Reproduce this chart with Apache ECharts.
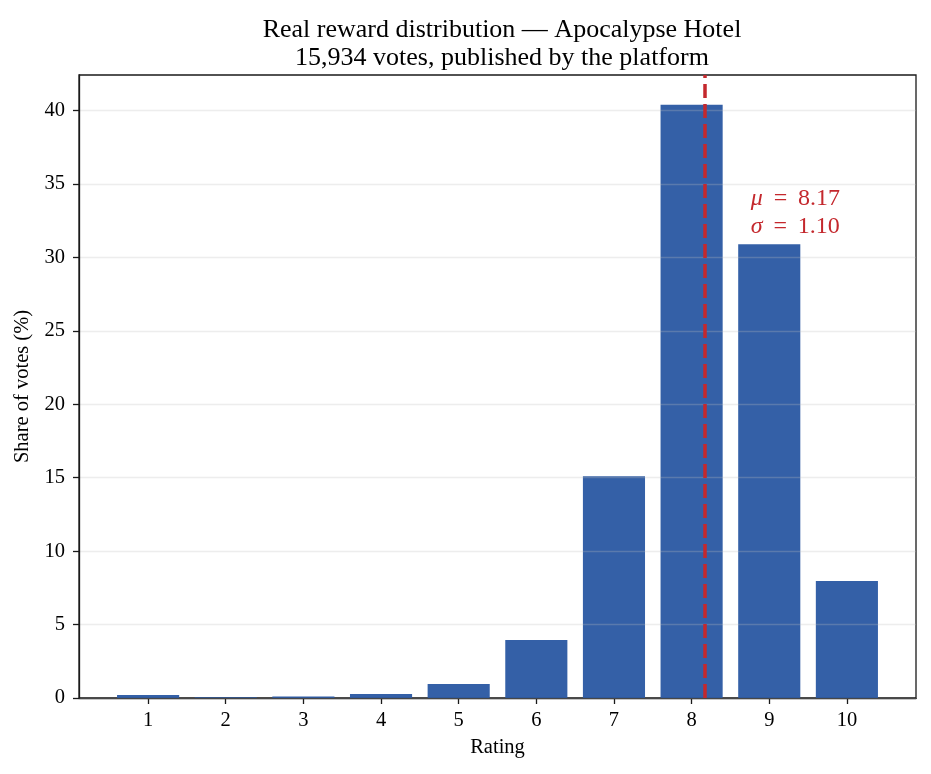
<!DOCTYPE html>
<html>
<head>
<meta charset="utf-8">
<script src="https://cdn.jsdelivr.net/npm/echarts@6/dist/echarts.min.js"></script>
<style>html,body{margin:0;padding:0;background:#fff}</style>
</head>
<body>
<div id="main" style="width:931px;height:774px"></div>
<script type="text/javascript">
	// ratings 1..10 and their share of votes (%)
	var ratings = [1, 2, 3, 4, 5, 6, 7, 8, 9, 10];
	var shares = [0.2, 0.05, 0.1, 0.27, 0.95, 3.95, 15.1, 40.4, 30.9, 7.96];
	var yTicks = [0, 5, 10, 15, 20, 25, 30, 35, 40];
	var meanValue = 8.17;
	var sdValue = 1.10;

	var font = 'Liberation Serif';
	var barColor = '#2352a0';
	var red = '#c4282d';

	var myChart = echarts.init(document.getElementById('main'));

	var barData = ratings.map(function (r, i) { return [r, shares[i]]; });

	var option = {
		animation: false,
		backgroundColor: '#fff',
		textStyle: { fontFamily: font },
		title: {
			text: 'Real reward distribution — Apocalypse Hotel\n15,934 votes, published by the platform',
			left: 497, top: 11, textAlign: 'center',
			textStyle: { fontFamily: font, fontSize: 26, fontWeight: 'normal', color: '#000', lineHeight: 28 }
		},
		grid: { left: 79, right: 15, top: 75, bottom: 76, show: true, borderColor: '#1a1a1a', borderWidth: 1.3 },
		xAxis: {
			type: 'value', min: 0.11, max: 10.89,
			name: 'Rating', nameLocation: 'middle', nameGap: 39,
			nameTextStyle: { fontFamily: font, fontSize: 20.5, color: '#000' },
			axisLine: { show: true, lineStyle: { color: '#1a1a1a', width: 1.3 } },
			axisTick: { show: true, length: 6, customValues: ratings, lineStyle: { color: '#1a1a1a', width: 1.3 } },
			axisLabel: { customValues: ratings, fontFamily: font, fontSize: 20.5, color: '#000', margin: 12 },
			splitLine: { show: false }
		},
		yAxis: {
			type: 'value', min: 0, max: 42.42, z: 3,
			name: 'Share of votes (%)', nameLocation: 'middle', nameGap: 46, nameRotate: 90,
			nameTextStyle: { fontFamily: font, fontSize: 20.5, color: '#000' },
			axisLine: { show: true, lineStyle: { color: '#1a1a1a', width: 1.3 } },
			axisTick: { show: true, length: 6, customValues: yTicks, lineStyle: { color: '#1a1a1a', width: 1.3 } },
			axisLabel: { customValues: yTicks, fontFamily: font, fontSize: 20.5, color: '#000', margin: 14 },
			splitLine: { show: true, lineStyle: { color: 'rgba(190,190,190,0.28)', width: 1.3 } }
		},
		series: [
			{
				type: 'custom',
				data: barData,
				z: 2,
				renderItem: function (params, api) {
					var x = api.value(0), y = api.value(1);
					var p0 = api.coord([x - 0.4, 0]);
					var p1 = api.coord([x + 0.4, y]);
					return {
						type: 'rect',
						shape: { x: p0[0], y: p1[1], width: p1[0] - p0[0], height: p0[1] - p1[1] },
						style: { fill: barColor, opacity: 0.92 }
					};
				}
			},
			{
				// mean line and mean / sd annotation
				type: 'custom',
				data: [[8.763, 31.12]],
				z: 5,
				renderItem: function (params, api) {
					var p = api.coord([api.value(0), api.value(1)]);
					var sp = ' \u2009';
					return {
						type: 'text',
						x: p[0], y: p[1],
						style: {
							text: '{i|μ}' + sp + '=' + sp + meanValue.toFixed(2) + '\n{i|σ}' + sp + '=' + sp + sdValue.toFixed(2),
							fill: red, fontFamily: font, fontSize: 24, lineHeight: 28,
							align: 'left', verticalAlign: 'bottom',
							rich: { i: { fontStyle: 'italic', fontFamily: font, fontSize: 24, fill: red } }
						}
					};
				},
				markLine: {
					silent: true,
					symbol: 'none',
					label: { show: false },
					lineStyle: { color: red, width: 3.5, type: [14, 6] },
					data: [{ xAxis: meanValue }]
				}
			}
		]
	};
	myChart.setOption(option);
</script>
</body>
</html>
